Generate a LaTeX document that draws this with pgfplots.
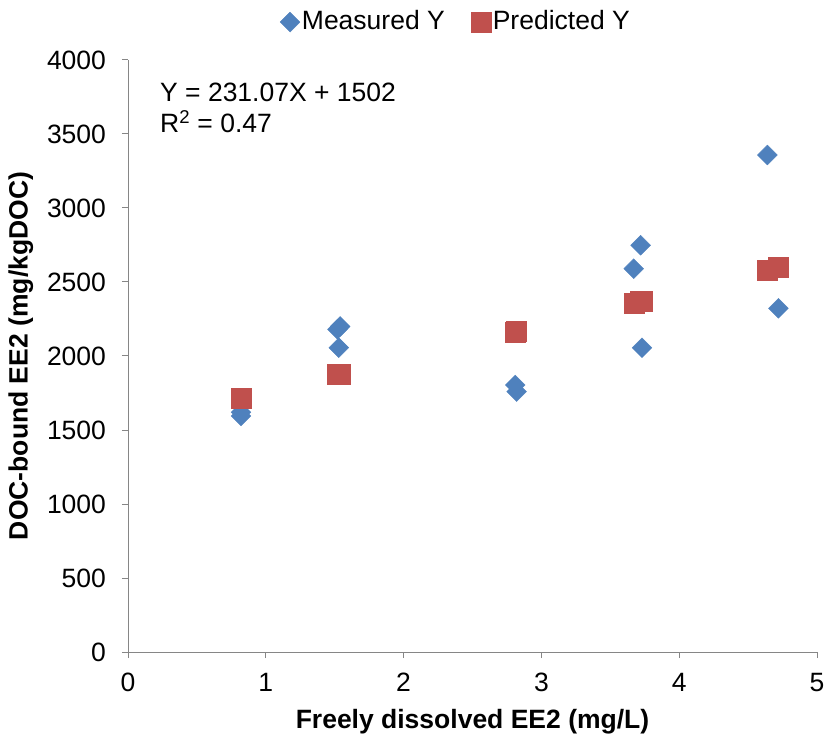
\documentclass[border=0pt]{standalone}
\usepackage{pgfplots}
\pgfplotsset{compat=1.18}
\usepackage{fontspec}
\setmainfont{Liberation Sans}
\definecolor{mblue}{HTML}{4F81BD}
\definecolor{mred}{HTML}{C0504D}
\definecolor{axgray}{HTML}{868686}
\begin{document}
\fontsize{26.6}{32}\selectfont
\begin{tikzpicture}
\begin{axis}[
  scale only axis,
  width=689bp, height=592bp,
  xmin=0, xmax=5, ymin=0, ymax=4000,
  xtick={0,1,2,3,4,5}, ytick={0,500,...,4000},
  axis lines=left,
  axis line style={axgray, line width=1pt, -},
  tick style={axgray, line width=1pt},
  tick align=outside,
  major tick length=6bp,
  /pgf/number format/assume math mode=true,
  /pgf/number format/1000 sep={},
  tick label style={font=\fontsize{26.6}{32}\selectfont},
  yticklabel style={xshift=-7bp},
  xticklabel style={yshift=-6bp},
  xlabel={\textbf{Freely dissolved EE2 (mg/L)}},
  ylabel={\textbf{DOC-bound EE2 (mg/kgDOC)}},
  label style={font=\fontsize{26.6}{32}\selectfont},
  xlabel style={yshift=0bp},
  ylabel style={yshift=-4bp},
  legend columns=2,
  legend style={draw=none, at={(0.476,1.064)}, anchor=center, font=\fontsize{26.6}{32}\selectfont,
    /tikz/every even column/.append style={column sep=24bp}, inner sep=0pt},
  legend cell align=left,
  clip=false,
]
\addplot[only marks, mark=square*, mark size=7bp, mark options={rotate=45, fill=mblue, draw=mblue}] coordinates {
(0.82,1620) (0.82,1595) (1.52,2180) (1.54,2200) (1.53,2056)
(2.81,1804) (2.82,1759) (3.67,2590) (3.72,2748) (3.73,2056)
(4.64,3358) (4.72,2322)
};
\addlegendentry{Measured Y}
\addplot[only marks, mark=square*, mark size=10bp, mark options={fill=mred, draw=mred}] coordinates {
(0.82,1715) (0.82,1715) (1.52,1875) (1.54,1880) (1.53,1878)
(2.81,2163) (2.82,2165) (3.67,2360) (3.72,2370) (3.73,2372)
(4.64,2580) (4.72,2597)
};
\addlegendentry{Predicted Y}
\node[anchor=north west, align=left, inner sep=0pt, font=\fontsize{26.6}{31}\selectfont] at (axis cs:0.232,3848)
  {Y = 231.07X + 1502\\R\textsuperscript{2} = 0.47};
\coordinate (BL) at (rel axis cs:0,0);
\coordinate (TR) at (rel axis cs:1,1);
\end{axis}
\pgfresetboundingbox
\path ([shift={(-128bp,-83bp)}]BL) rectangle ([shift={(9bp,60bp)}]TR);
\end{tikzpicture}
\end{document}
